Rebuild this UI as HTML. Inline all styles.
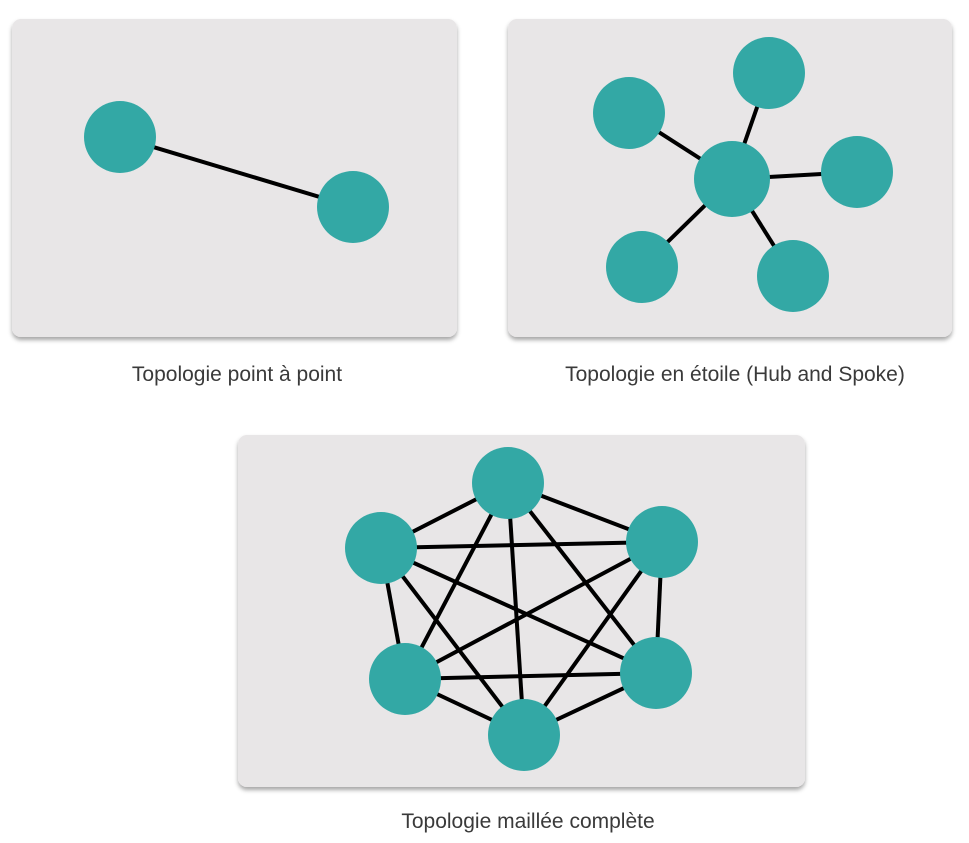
<!DOCTYPE html>
<html><head><meta charset="utf-8"><style>
body{margin:0;background:#fff;width:969px;height:843px;overflow:hidden;font-family:"Liberation Sans",sans-serif;}
svg{position:absolute;left:0;top:0}
text{font-family:"Liberation Sans",sans-serif;font-size:21px;fill:#3a3a3a;text-anchor:middle}
</style></head><body>
<svg width="969" height="843" viewBox="0 0 969 843">
<defs><filter id="sh" x="-5%" y="-5%" width="110%" height="115%"><feDropShadow dx="0" dy="3" stdDeviation="2" flood-color="#000" flood-opacity="0.35"/></filter></defs>
<g fill="#e8e6e7" filter="url(#sh)">
<rect x="12" y="19" width="445" height="318" rx="9"/>
<rect x="508" y="19" width="444" height="318" rx="9"/>
<rect x="238" y="435" width="567" height="352" rx="9"/>
</g>
<g stroke="#000" stroke-width="4">
<line x1="120" y1="137" x2="353" y2="207"/>
<line x1="732" y1="179" x2="629" y2="113"/>
<line x1="732" y1="179" x2="769" y2="73"/>
<line x1="732" y1="179" x2="857" y2="172"/>
<line x1="732" y1="179" x2="793" y2="276"/>
<line x1="732" y1="179" x2="642" y2="267"/>
<line x1="508" y1="483" x2="381" y2="548"/>
<line x1="508" y1="483" x2="662" y2="542"/>
<line x1="508" y1="483" x2="405" y2="679"/>
<line x1="508" y1="483" x2="656" y2="673"/>
<line x1="508" y1="483" x2="524" y2="735"/>
<line x1="381" y1="548" x2="662" y2="542"/>
<line x1="381" y1="548" x2="405" y2="679"/>
<line x1="381" y1="548" x2="656" y2="673"/>
<line x1="381" y1="548" x2="524" y2="735"/>
<line x1="662" y1="542" x2="405" y2="679"/>
<line x1="662" y1="542" x2="656" y2="673"/>
<line x1="662" y1="542" x2="524" y2="735"/>
<line x1="405" y1="679" x2="656" y2="673"/>
<line x1="405" y1="679" x2="524" y2="735"/>
<line x1="656" y1="673" x2="524" y2="735"/>
</g>
<g fill="#33a8a5">
<circle cx="120" cy="137" r="36"/><circle cx="353" cy="207" r="36"/>
<circle cx="732" cy="179" r="38"/><circle cx="629" cy="113" r="36"/><circle cx="769" cy="73" r="36"/>
<circle cx="857" cy="172" r="36"/><circle cx="793" cy="276" r="36"/><circle cx="642" cy="267" r="36"/>
<circle cx="508" cy="483" r="36"/><circle cx="381" cy="548" r="36"/><circle cx="662" cy="542" r="36"/>
<circle cx="405" cy="679" r="36"/><circle cx="656" cy="673" r="36"/><circle cx="524" cy="735" r="36"/>
</g>
<text x="237" y="381">Topologie point à point</text>
<text x="735" y="381">Topologie en étoile (Hub and Spoke)</text>
<text x="528" y="828">Topologie maillée complète</text>
</svg>
</body></html>
